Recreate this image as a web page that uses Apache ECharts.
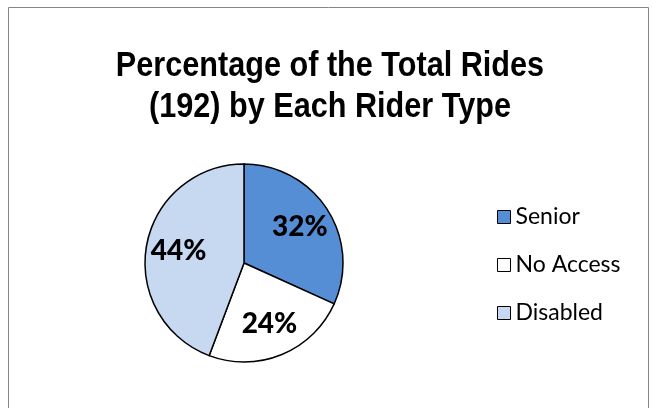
<!DOCTYPE html>
<html><head><meta charset="utf-8">
<script src="https://cdn.jsdelivr.net/npm/echarts@6/dist/echarts.min.js"></script>
<style>html,body{margin:0;padding:0;background:#fff}#c{width:652px;height:408px}</style>
</head><body><div id="c"></div>
<script>
const titleText = "Percentage of the Total Rides\n(192) by Each Rider Type";
const categories = ["Senior", "No Access", "Disabled"];
const rides = [61, 46, 85];
const colors = ["#558ED5", "#FFFFFF", "#C6D9F1"];

const chart = echarts.init(document.getElementById('c'), null, {renderer: 'canvas'});
const data = categories.map((n, i) => ({name: n, value: rides[i], itemStyle: {color: colors[i]}}));
const total = rides.reduce((a, b) => a + b, 0);
chart.setOption({
  animation: false,
  backgroundColor: '#fff',
  graphic: [
    {type: 'rect', shape: {x: 8.5, y: 7.5, width: 640, height: 430}, style: {fill: 'none', stroke: '#868686', lineWidth: 1}},
    {type: 'text', x: 330, y: 46, scaleX: 0.875, scaleY: 1,
      style: {text: titleText, fill: '#000', font: 'bold 35px "Liberation Sans"', lineHeight: 41, align: 'center', verticalAlign: 'top'}}
  ],
  legend: {
    orient: 'vertical', left: 492, top: 200, itemGap: 24,
    icon: 'rect', itemWidth: 13, itemHeight: 13,
    itemStyle: {borderColor: '#000', borderWidth: 1},
    textStyle: {fontFamily: 'Lato', fontSize: 23, lineHeight: 24, color: '#000'},
    data: categories
  },
  series: [{
    type: 'pie', center: [244, 263], radius: [0, 99], startAngle: 90, clockwise: true,
    label: {show: false}, labelLine: {show: false},
    itemStyle: {borderColor: '#000', borderWidth: 1.5},
    emphasis: {disabled: true},
    data: data
  }, {
    type: 'pie', center: [244, 263], radius: [28, 99], startAngle: 90, clockwise: true, silent: true,
    itemStyle: {color: 'rgba(0,0,0,0)', borderWidth: 0},
    label: {show: true, position: 'inside', fontFamily: 'Lato', fontWeight: 900, fontSize: 28, color: '#000',
      formatter: p => Math.round(p.value / total * 100) + '%'},
    labelLine: {show: false},
    emphasis: {disabled: true},
    data: categories.map((n, i) => ({name: n, value: rides[i]}))
  }]
});
</script></body></html>
